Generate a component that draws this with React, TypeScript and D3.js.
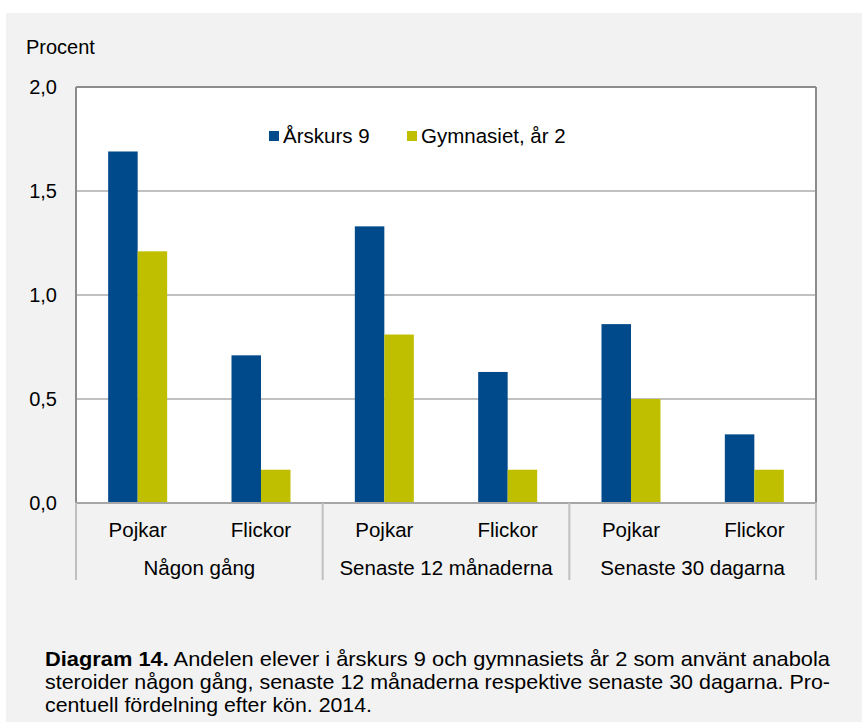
import React from "react";
import * as d3 from "d3";

const groups = ["Någon gång", "Senaste 12 månaderna", "Senaste 30 dagarna"];
const genders = ["Pojkar", "Flickor"];
const seriesNames = ["Årskurs 9", "Gymnasiet, år 2"];
const seriesColors = ["#00498B", "#BFBF00"];
const arskurs9 = [1.69, 0.71, 1.33, 0.63, 0.86, 0.33];
const gymnasiet = [1.21, 0.16, 0.81, 0.16, 0.5, 0.16];
const yTicks = [0, 0.5, 1.0, 1.5, 2.0];
const captionLines = [
  "Andelen elever i årskurs 9 och gymnasiets år 2 som använt anabola",
  "steroider någon gång, senaste 12 månaderna respektive senaste 30 dagarna. Pro-",
  "centuell fördelning efter kön. 2014.",
];

const W = 862;
const H = 722;
const left = 76;
const right = 816;
const top = 87;
const bottom = 503;
const FONT = "'Liberation Sans', Arial, sans-serif";
const NARROW = "'Liberation Sans Narrow', 'Arial Narrow', 'Liberation Sans', Arial, sans-serif";

export default function App() {
  const cats: { key: string; gender: string; group: string; vals: number[] }[] = [];
  groups.forEach((g, gi) =>
    genders.forEach((s, si) => {
      const i = gi * 2 + si;
      cats.push({ key: `${g}-${s}`, gender: s, group: g, vals: [arskurs9[i], gymnasiet[i]] });
    })
  );

  const y = d3.scaleLinear().domain([0, 2]).range([bottom, top]);
  const x0 = d3
    .scaleBand<string>()
    .domain(cats.map((c) => c.key))
    .range([left, right])
    .paddingInner(0.5216)
    .paddingOuter(0.2608);
  const x1 = d3.scaleBand<number>().domain([0, 1]).range([0, x0.bandwidth()]).padding(0);
  const groupX = d3.scaleBand<string>().domain(groups).range([left, right]);

  const fmt = (v: number) => d3.format(".1f")(v).replace(".", ",");

  return (
    <svg width={W} height={H} style={{ position: "absolute", left: 0, top: 0 }}>
      <rect x={0} y={0} width={W} height={H} fill="#ffffff" />
      <rect x={6} y={13} width={W - 6} height={H - 13} fill="#f2f2f2" />
      <rect x={left} y={top} width={right - left} height={bottom - top} fill="#ffffff" />

      {yTicks.slice(1, -1).map((t) => (
        <line key={t} x1={left} x2={right} y1={y(t)} y2={y(t)} stroke="#c0c0c0" strokeWidth={2} />
      ))}

      {cats.map((c) =>
        c.vals.map((v, si) => (
          <rect
            key={c.key + si}
            x={(x0(c.key) as number) + (x1(si) as number)}
            y={y(v)}
            width={x1.bandwidth()}
            height={y(0) - y(v)}
            fill={seriesColors[si]}
          />
        ))
      )}

      {/* frame */}
      <line x1={left} x2={right} y1={top} y2={top} stroke="#8c8c8c" strokeWidth={2} />
      <line x1={right} x2={right} y1={top} y2={bottom} stroke="#8c8c8c" strokeWidth={2} />
      <line x1={left} x2={left} y1={top} y2={bottom} stroke="#8c8c8c" strokeWidth={2} />
      <line x1={left - 1} x2={right + 1} y1={bottom} y2={bottom} stroke="#a6a6a6" strokeWidth={2} />

      {/* group separators */}
      {[...groups.map((g) => groupX(g) as number), right].map((xv, i) => (
        <line key={i} x1={xv} x2={xv} y1={bottom} y2={580} stroke="#c0c0c0" strokeWidth={2} />
      ))}

      {/* y ticks */}
      {yTicks.map((t) => (
        <text key={t} x={57} y={y(t) + 7} textAnchor="end" fontFamily={FONT} fontSize={20} fill="#000">
          {fmt(t)}
        </text>
      ))}
      <text x={26} y={54} fontFamily={FONT} fontSize={20} fill="#000">
        Procent
      </text>

      {/* category labels */}
      {cats.map((c) => (
        <text
          key={c.key + "lab"}
          x={(x0(c.key) as number) + x0.bandwidth() / 2}
          y={537}
          textAnchor="middle"
          fontFamily={FONT}
          fontSize={20.5}
          fill="#000"
        >
          {c.gender}
        </text>
      ))}
      {groups.map((g) => (
        <text
          key={g}
          x={(groupX(g) as number) + groupX.bandwidth() / 2}
          y={575}
          textAnchor="middle"
          fontFamily={FONT}
          fontSize={20.5}
          fill="#000"
        >
          {g}
        </text>
      ))}

      {/* legend */}
      {seriesNames.map((s, i) => {
        const lx = [269, 407][i];
        return (
          <g key={s}>
            <rect x={lx} y={131} width={10} height={10} fill={seriesColors[i]} />
            <text x={lx + 14} y={143} fontFamily={FONT} fontSize={20.5} fill="#000">
              {s}
            </text>
          </g>
        );
      })}

      {/* caption */}
      <text x={45} y={666} fontFamily={NARROW} fontSize={21} fill="#000" textLength={785} lengthAdjust="spacingAndGlyphs">
        <tspan fontWeight="bold">Diagram 14.</tspan> {captionLines[0]}
      </text>
      <text x={45} y={689} fontFamily={NARROW} fontSize={21} fill="#000" textLength={785} lengthAdjust="spacingAndGlyphs">
        {captionLines[1]}
      </text>
      <text x={45} y={712} fontFamily={NARROW} fontSize={21} fill="#000" textLength={327} lengthAdjust="spacingAndGlyphs">
        {captionLines[2]}
      </text>
    </svg>
  );
}
